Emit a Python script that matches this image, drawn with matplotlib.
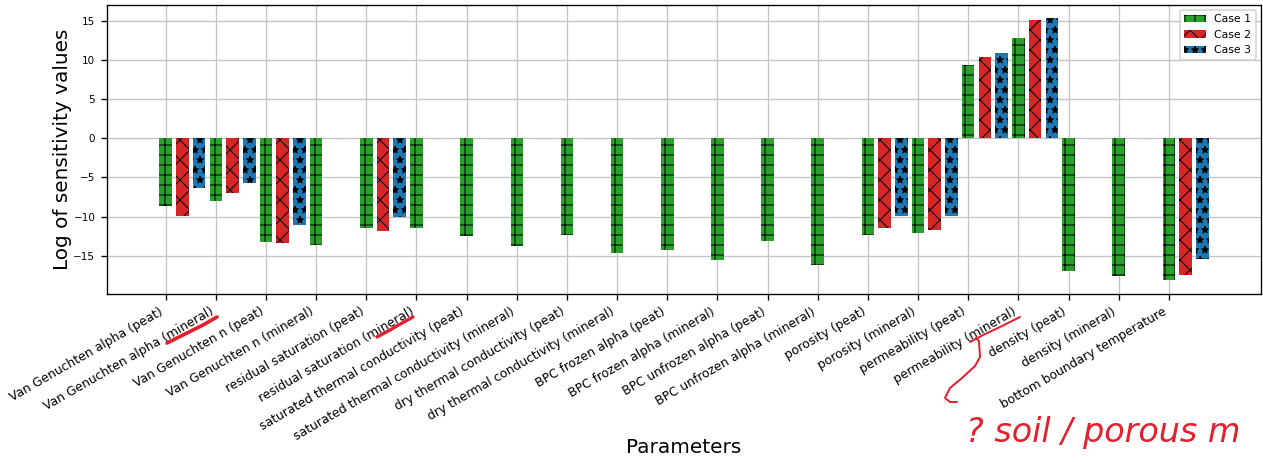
import numpy as np
import matplotlib
matplotlib.use("Agg")
import matplotlib.pyplot as plt
from matplotlib.lines import Line2D

# parameter names on the x axis
parameters = [
    "Van Genuchten alpha (peat)", "Van Genuchten alpha (mineral)",
    "Van Genuchten n (peat)", "Van Genuchten n (mineral)",
    "residual saturation (peat)", "residual saturation (mineral)",
    "saturated thermal conductivity (peat)", "saturated thermal conductivity (mineral)",
    "dry thermal conductivity (peat)", "dry thermal conductivity (mineral)",
    "BPC frozen alpha (peat)", "BPC frozen alpha (mineral)",
    "BPC unfrozen alpha (peat)", "BPC unfrozen alpha (mineral)",
    "porosity (peat)", "porosity (mineral)",
    "permeability (peat)", "permeability (mineral)",
    "density (peat)", "density (mineral)",
    "bottom boundary temperature",
]

nan = np.nan
# log of sensitivity values per case (nan = not computed)
case1 = [-8.6, -8.0, -13.2, -13.65, -11.45, -11.5, -12.45, -13.7, -12.4, -14.6, -14.3,
         -15.5, -13.1, -16.2, -12.3, -12.1, 9.35, 12.8, -16.95, -17.65, -18.15]
case2 = [-9.9, -6.95, -13.4, nan, -11.9, nan, nan, nan, nan, nan, nan,
         nan, nan, nan, -11.5, -11.65, 10.45, 15.15, nan, nan, -17.5]
case3 = [-6.4, -5.75, -11.1, nan, -10.1, nan, nan, nan, nan, nan, nan,
         nan, nan, nan, -9.9, -9.95, 10.95, 15.4, nan, nan, -15.45]

plt.rcParams['hatch.linewidth'] = 0.6

fig, ax = plt.subplots(figsize=(1263 / 120, 462 / 120), dpi=120)
fig.subplots_adjust(left=0.0847, right=0.9984, top=0.9898, bottom=0.3647)

x = np.arange(len(parameters))
width = 0.25
ax.bar(x, case1, width, color='tab:green', hatch='++', label='Case 1')
ax.bar(x + 1 / 3, case2, width, color='tab:red', hatch='xx', label='Case 2')
ax.bar(x + 2 / 3, case3, width, color='tab:blue', hatch='**', label='Case 3')

ax.set_xticks(x)
ax.set_xticklabels(parameters, rotation=30, ha='right', fontsize=7.4)
ax.tick_params(axis='y', labelsize=6.2)
ax.set_xlabel('Parameters', fontsize=12)
ax.set_ylabel('Log of sensitivity values', fontsize=12)
ax.xaxis.set_label_coords(0.5, -0.5)
ax.yaxis.set_label_coords(-0.0303, 0.5)
ax.grid(True, color='#c4c4c4')
ax.set_axisbelow(True)
ax.legend(loc='upper right', fontsize=6.5)

# red handwritten notes on top of the figure (pixel coords of the image)
red = '#e3202b'
W, H = 1263, 462


def stroke(pts, lw):
    xs = [p[0] / W for p in pts]
    ys = [1 - p[1] / H for p in pts]
    fig.add_artist(Line2D(xs, ys, color=red, lw=lw, solid_capstyle='round',
                          transform=fig.transFigure))


stroke([(167, 343), (185, 334), (203, 325), (217, 317)], 2.2)
stroke([(377, 337), (390, 330), (402, 323), (413, 317)], 2.0)
stroke([(970, 342), (985, 334), (1000, 327), (1020, 317)], 1.2)
stroke([(976, 338), (979, 341), (980, 357), (975, 366), (962, 378), (950, 388),
        (945, 398), (950, 402), (957, 402)], 1.2)
fig.text(966 / W, 1 - 442 / H, "? soil / porous m", color=red, fontsize=20,
         style='italic', va='baseline')

fig.savefig('out.png', dpi=120)
